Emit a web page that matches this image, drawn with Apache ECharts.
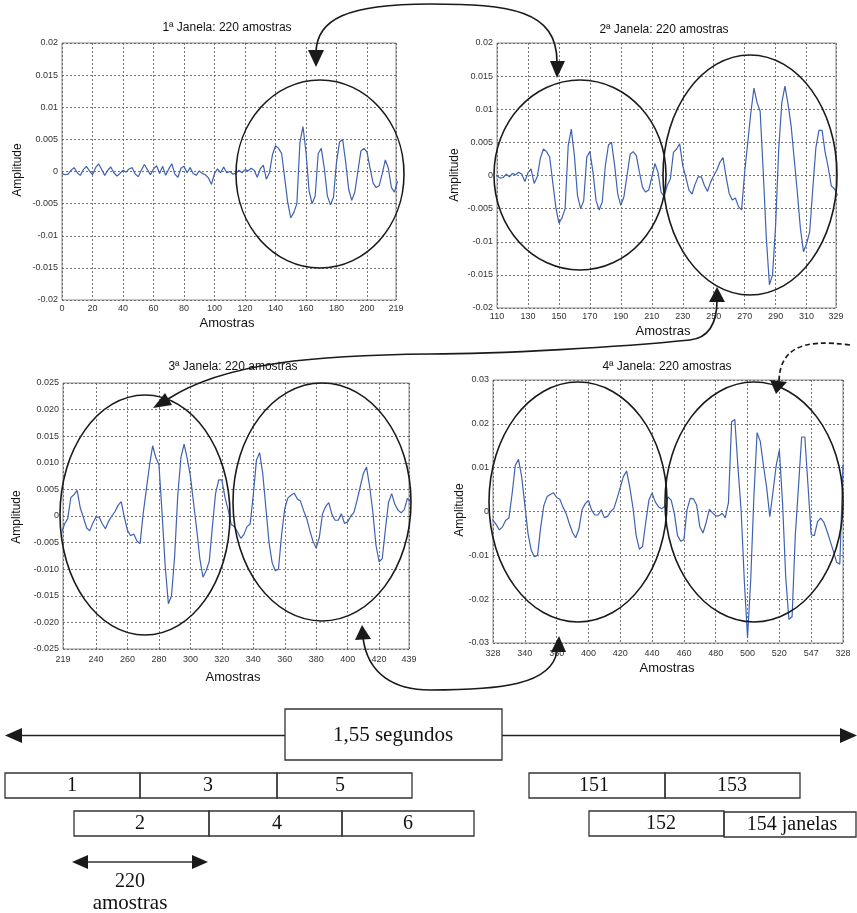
<!DOCTYPE html>
<html><head><meta charset="utf-8">
<script src="https://cdn.jsdelivr.net/npm/echarts@6/dist/echarts.min.js"></script>
<style>html,body{margin:0;padding:0;background:#fff}#c{width:857px;height:913px}</style>
</head><body><div id="c"></div>
<script>
// Signal samples, every 2nd sample (amplitude values)
const sampleStep = 2;
const segStarts = [0, 110, 220, 330, 440];
const segA = [-0.0003,-0.0005,-0.0004,0.0002,0.0006,-0.0002,-0.0006,0.0003,0.0008,0.0001,
  -0.0005,0.0006,0.0012,0.0003,-0.0006,0.0002,0.0007,-0.0002,-0.0007,-0.0003,
  0.0002,-0.0001,0.0004,0.0006,-0.0004,-0.0008,0.0002,0.0011,0.0003,-0.0005,
  0.0004,0.0009,-0.0003,0.0008,-0.0006,0.0004,0.0012,-0.0004,-0.0009,0.0005,
  0.0008,-0.0002,0.0006,-0.0003,-0.0006,0.0001,-0.0003,-0.0005,-0.0010,-0.0020,
  -0.0003,0.0004,-0.0002,0.0007,-0.0002];
const segB = [0.0000,-0.0004,-0.0003,0.0002,-0.0002,0.0003,0.0001,0.0005,0.0002,-0.0009,
  0.0004,0.0010,-0.0012,-0.0002,0.0026,0.0040,0.0036,0.0028,-0.0010,-0.0048,
  -0.0072,-0.0064,-0.0050,0.0045,0.0070,0.0030,-0.0030,-0.0050,-0.0038,0.0028,
  0.0036,0.0005,-0.0038,-0.0052,-0.0040,0.0015,0.0046,0.0050,0.0015,-0.0028,
  -0.0045,-0.0032,0.0000,0.0032,0.0036,0.0030,0.0005,-0.0018,-0.0025,-0.0022,
  -0.0003,0.0018,0.0005,-0.0025,-0.0032];
const segC = [-0.0015,-0.0005,0.0035,0.0040,0.0048,0.0015,-0.0003,-0.0022,-0.0028,-0.0013,
  -0.0002,-0.0002,-0.0015,-0.0024,-0.0010,0.0000,0.0008,0.0020,0.0027,-0.0002,
  -0.0027,-0.0037,-0.0034,-0.0047,-0.0052,0.0005,0.0050,0.0095,0.0132,0.0110,
  0.0097,0.0005,-0.0095,-0.0165,-0.0150,-0.0075,0.0040,0.0110,0.0135,0.0108,
  0.0075,0.0025,-0.0025,-0.0080,-0.0115,-0.0103,-0.0085,-0.0020,0.0042,0.0068,
  0.0068,0.0035,0.0012,-0.0016,-0.0020];
const segD = [-0.0030,-0.0042,-0.0035,-0.0020,-0.0015,0.0040,0.0105,0.0119,0.0080,0.0015,
  -0.0050,-0.0088,-0.0103,-0.0100,-0.0035,0.0014,0.0034,0.0039,0.0043,0.0032,
  0.0028,0.0010,-0.0005,-0.0028,-0.0048,-0.0060,-0.0040,0.0004,0.0018,0.0025,
  0.0003,-0.0008,-0.0008,0.0004,-0.0014,-0.0011,0.0000,0.0007,0.0030,0.0055,
  0.0080,0.0092,0.0055,0.0008,-0.0055,-0.0086,-0.0080,-0.0025,0.0026,0.0042,
  0.0022,0.0011,0.0006,0.0012,0.0033];
const segE = [0.0026,-0.0005,-0.0055,-0.0068,-0.0064,0.0005,0.0030,0.0029,0.0015,-0.0035,
  -0.0049,-0.0025,0.0005,-0.0003,-0.0010,-0.0010,-0.0004,-0.0014,0.0020,0.0205,
  0.0210,0.0100,0.0000,-0.0160,-0.0288,-0.0155,0.0035,0.0180,0.0160,0.0105,
  0.0055,-0.0012,0.0045,0.0105,0.0140,0.0020,-0.0150,-0.0246,-0.0240,-0.0055,
  0.0055,0.0170,0.0170,0.0060,-0.0053,-0.0055,-0.0023,-0.0015,-0.0025,-0.0045,
  -0.0068,-0.0091,-0.0116,-0.0120,0.0106];

// Windows
const windowTitles = ['1ª Janela: 220 amostras','2ª Janela: 220 amostras','3ª Janela: 220 amostras','4ª Janela: 220 amostras'];
const windowMin = [0, 110, 219, 328];
const windowMax = [219, 329, 439, 548];
const xTicks1 = [0,20,40,60,80,100,120,140,160,180,200,219];
const xTicks2 = [110,130,150,170,190,210,230,250,270,290,310,329];
const xTicks3 = [219,240,260,280,300,320,340,360,380,400,420,439];
const xTicks4 = [328,348,368,388,408,428,448,468,488,508,528,548];
const xTickLabels4 = ['328','340','360','400','420','440','460','480','500','520','547','328'];
const yMin = [-0.02,-0.02,-0.025,-0.03];
const yMax = [0.02,0.02,0.025,0.03];
const yStep = [0.005,0.005,0.005,0.01];

const segs = [segA, segB, segC, segD, segE];
const signal = [];
segs.forEach((s, k) => s.forEach((v, i) => signal.push([segStarts[k] + i * sampleStep, v])));

const grids = [
  {left:62, top:43, width:334, height:257},
  {left:497, top:43, width:339, height:265},
  {left:63, top:383, width:346, height:266},
  {left:493, top:380, width:350, height:263}
].map(g => Object.assign(g, {show:true, borderColor:'#8a8a8a', borderWidth:1, outerBoundsMode:'none'}));

const lblFont = {fontSize:9, color:'#333', fontFamily:'Liberation Sans'};
const split = {show:true, lineStyle:{color:'#555', type:[2,2], width:0.8}};
const xTickSets = [xTicks1, xTicks2, xTicks3, xTicks4];
const xAxes = xTickSets.map((t, i) => ({
  type:'value', gridIndex:i, min:windowMin[i], max:windowMax[i],
  axisLine:{show:false}, axisTick:{show:false, customValues:t},
  axisLabel:Object.assign({customValues:t, margin:i >= 2 ? 6 : 4,
    formatter: v => i === 3 ? xTickLabels4[Math.round((v - 328) / 20)] : String(v)}, lblFont),
  splitLine:split
}));
const yAxes = [0,1,2,3].map(i => ({
  type:'value', gridIndex:i, min:yMin[i], max:yMax[i], interval:yStep[i],
  axisLine:{show:false}, axisTick:{show:false},
  axisLabel:Object.assign({margin:4, formatter: v => {
    if (Math.abs(v) < 1e-9) return '0';
    return i === 2 ? v.toFixed(3) : String(+v.toFixed(4));
  }}, lblFont),
  splitLine:split
}));
const series = [0,1,2,3].map(i => ({
  type:'line', xAxisIndex:i, yAxisIndex:i, showSymbol:false, clip:true, animation:false,
  lineStyle:{color:'#3f62b0', width:1.2},
  data: signal.filter(p => p[0] >= windowMin[i] - 2 && p[0] <= windowMax[i] + 2)
}));

// Annotations
const K = '#1a1a1a';
const txt = (x, y, text, size, family, rot) => ({type:'text', x, y, rotation:rot || 0, z:100,
  style:{text, fill:'#111', font: size + 'px ' + family, align:'center', verticalAlign:'middle', textAlign:'center', textVerticalAlign:'middle'}});
const ell = (cx, cy, rx, ry) => ({type:'ellipse', z:100, shape:{cx, cy, rx, ry}, style:{fill:null, stroke:K, lineWidth:1.6}});
const bez = (x1,y1,cpx1,cpy1,cpx2,cpy2,x2,y2,dash) => ({type:'bezierCurve', z:100,
  shape:{x1,y1,cpx1,cpy1,cpx2,cpy2,x2,y2}, style:{fill:null, stroke:K, lineWidth:1.7, lineDash:dash || null}});
const tri = (pts) => ({type:'polygon', z:101, shape:{points:pts}, style:{fill:K}});
const box = (x, y, w, h) => ({type:'rect', z:100, shape:{x, y, width:w, height:h}, style:{fill:null, stroke:'#333', lineWidth:1.3}});
const ln = (x1,y1,x2,y2,c,w) => ({type:'line', z:100, shape:{x1,y1,x2,y2}, style:{stroke:c, lineWidth:w}});

const graphics = [
  txt(227, 28, windowTitles[0], 12, 'Liberation Sans'),
  txt(664, 30, windowTitles[1], 12, 'Liberation Sans'),
  txt(233, 367, windowTitles[2], 12, 'Liberation Sans'),
  txt(667, 367, windowTitles[3], 12, 'Liberation Sans'),
  txt(227, 323, 'Amostras', 13, 'Liberation Sans'),
  txt(663, 331, 'Amostras', 13, 'Liberation Sans'),
  txt(233, 677, 'Amostras', 13, 'Liberation Sans'),
  txt(667, 668, 'Amostras', 13, 'Liberation Sans'),
  txt(18, 170, 'Amplitude', 12, 'Liberation Sans', Math.PI/2),
  txt(455, 175, 'Amplitude', 12, 'Liberation Sans', Math.PI/2),
  txt(17, 517, 'Amplitude', 12, 'Liberation Sans', Math.PI/2),
  txt(460, 510, 'Amplitude', 12, 'Liberation Sans', Math.PI/2),
  ell(320, 174, 84, 94),
  ell(580, 175, 86, 95),
  ell(750, 175, 87, 120),
  ell(145, 515, 85, 120),
  ell(322, 502, 89, 119),
  ell(578, 502, 89, 120),
  ell(754, 502, 89, 120),
  // arrow between window 1 and 2
  bez(316, 52, 317, 20, 345, 4, 430, 4),
  bez(430, 4, 510, 4, 557, 10, 557, 62),
  tri([[316, 67], [308, 50], [324, 50]]),
  tri([[557, 78], [550, 61], [565, 61]]),
  // arrow between window 2 and 3
  bez(717, 300, 717, 325, 707, 338, 690, 340),
  bez(690, 340, 620, 347, 500, 354, 430, 354),
  bez(430, 354, 320, 355, 225, 362, 168, 399),
  tri([[717, 287], [709, 302], [725, 302]]),
  tri([[153, 408], [172, 405], [165, 393]]),
  // arrow between window 3 and 4
  bez(363, 638, 368, 675, 395, 690, 430, 690),
  bez(430, 690, 500, 690, 552, 685, 557, 651),
  tri([[362, 625], [355, 640], [371, 639]]),
  tri([[559, 636], [551, 652], [566, 652]]),
  // dashed arrow into window 4
  bez(850, 345, 800, 338, 780, 350, 779, 381, [5, 3]),
  tri([[776, 394], [770, 380], [787, 382]]),
  // timeline
  ln(20, 735.5, 285, 735.5, '#222', 1.5),
  ln(502, 735.5, 842, 735.5, '#222', 1.5),
  tri([[5, 735.5], [22, 728], [22, 743]]),
  tri([[857, 735.5], [840, 728], [840, 743]]),
  box(285, 709, 217, 51),
  txt(393, 735, '1,55 segundos', 21, 'Liberation Serif'),
  box(5, 773, 135, 25), box(140, 773, 137, 25), box(277, 773, 135, 25),
  box(529, 773, 136, 25), box(665, 773, 135, 25),
  box(74, 811, 135, 25), box(209, 811, 133, 25), box(342, 811, 132, 25),
  box(589, 811, 135, 25), box(724, 812, 132, 25),
  txt(72, 786, '1', 20, 'Liberation Serif'),
  txt(208, 786, '3', 20, 'Liberation Serif'),
  txt(340, 786, '5', 20, 'Liberation Serif'),
  txt(594, 786, '151', 20, 'Liberation Serif'),
  txt(732, 786, '153', 20, 'Liberation Serif'),
  txt(140, 824, '2', 20, 'Liberation Serif'),
  txt(277, 824, '4', 20, 'Liberation Serif'),
  txt(408, 824, '6', 20, 'Liberation Serif'),
  txt(661, 824, '152', 20, 'Liberation Serif'),
  txt(792, 825, '154 janelas', 20, 'Liberation Serif'),
  ln(86, 862, 194, 862, '#666', 2),
  tri([[72, 862], [88, 855], [88, 869]]),
  tri([[208, 862], [192, 855], [192, 869]]),
  txt(130, 882, '220', 20, 'Liberation Serif'),
  txt(130, 903, 'amostras', 21, 'Liberation Serif')
];

const chart = echarts.init(document.getElementById('c'), null, {renderer:'canvas'});
chart.setOption({
  backgroundColor:'#fff', animation:false,
  grid:grids, xAxis:xAxes, yAxis:yAxes, series:series,
  graphic:{elements:graphics}
});
</script>
</body></html>
